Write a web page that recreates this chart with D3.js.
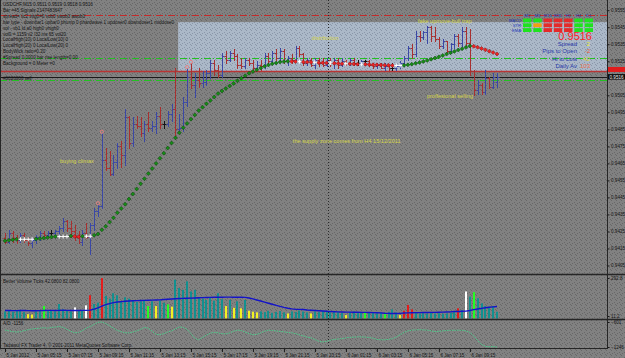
<!DOCTYPE html>
<html>
<head>
<meta charset="utf-8">
<script src="https://cdn.jsdelivr.net/npm/d3@7"></script>
<style>
  body { margin: 0; background: #808080; }
  svg { display: block; }
  text { font-family: "Liberation Sans", Arial, sans-serif; }
</style>
</head>
<body>
<svg id="chart" width="625" height="358"></svg>
<script>
// USDCHF M15 bars, 5 Jan 2012 03:15 -> 6 Jan 2012 11:00
var opens = [
  0.9421,0.9419,0.9424,0.9421,0.9420,0.9423,0.9420,0.9418,0.9420,0.9422,
  0.9424,0.9423,0.9424,0.9424,0.9425,0.9427,0.9431,0.9427,0.9425,0.9422,
  0.9419,0.9424,0.9422,0.9429,0.9437,0.9440,0.9467,0.9462,0.9459,0.9466,
  0.9475,0.9470,0.9492,0.9477,0.9488,0.9487,0.9483,0.9488,0.9486,0.9487,
  0.9493,0.9488,0.9488,0.9494,0.9497,0.9485,0.9486,0.9501,0.9516,0.9511,
  0.9514,0.9512,0.9513,0.9518,0.9524,0.9520,0.9517,0.9528,0.9526,0.9530,
  0.9528,0.9523,0.9522,0.9526,0.9524,0.9521,0.9523,0.9522,0.9528,0.9525,
  0.9530,0.9527,0.9531,0.9525,0.9527,0.9526,0.9533,0.9529,0.9524,0.9526,
  0.9523,0.9526,0.9524,0.9523,0.9526,0.9524,0.9526,0.9523,0.9525,0.9524,
  0.9526,0.9524,0.9524,0.9525,0.9525,0.9523,0.9522,0.9523,0.9521,0.9522,
  0.9521,0.9521,0.9522,0.9524,0.9527,0.9533,0.9529,0.9540,0.9539,0.9542,
  0.9545,0.9540,0.9538,0.9534,0.9537,0.9531,0.9535,0.9540,0.9536,0.9543,
  0.9536,0.9519,0.9508,0.9511,0.9507,0.9515,0.9510,0.9513
];
var highs = [
  0.9424,0.9426,0.9425,0.9423,0.9424,0.9424,0.9422,0.9421,0.9423,0.9425,
  0.9425,0.9425,0.9426,0.9426,0.9428,0.9433,0.9432,0.9431,0.9429,0.9425,
  0.9426,0.9430,0.9430,0.9439,0.9441,0.9483,0.9474,0.9472,0.9470,0.9477,
  0.9478,0.9497,0.9493,0.9492,0.9493,0.9492,0.9490,0.9495,0.9490,0.9495,
  0.9498,0.9490,0.9496,0.9500,0.9521,0.9494,0.9504,0.9521,0.9524,0.9518,
  0.9521,0.9519,0.9520,0.9526,0.9526,0.9523,0.9530,0.9531,0.9531,0.9532,
  0.9529,0.9527,0.9527,0.9527,0.9526,0.9525,0.9526,0.9530,0.9530,0.9531,
  0.9532,0.9533,0.9532,0.9528,0.9529,0.9534,0.9534,0.9530,0.9527,0.9527,
  0.9527,0.9527,0.9527,0.9527,0.9527,0.9527,0.9527,0.9527,0.9526,0.9527,
  0.9527,0.9526,0.9526,0.9526,0.9526,0.9524,0.9524,0.9524,0.9524,0.9523,
  0.9524,0.9523,0.9525,0.9528,0.9534,0.9535,0.9543,0.9543,0.9543,0.9546,
  0.9546,0.9545,0.9539,0.9538,0.9537,0.9536,0.9541,0.9541,0.9545,0.9545,
  0.9544,0.9520,0.9514,0.9512,0.9520,0.9516,0.9518,0.9518
];
var lows = [
  0.9418,0.9418,0.9419,0.9418,0.9419,0.9419,0.9417,0.9416,0.9418,0.9420,
  0.9421,0.9422,0.9423,0.9422,0.9423,0.9425,0.9425,0.9422,0.9420,0.9418,
  0.9417,0.9421,0.9412,0.9426,0.9434,0.9439,0.9461,0.9458,0.9458,0.9462,
  0.9463,0.9464,0.9474,0.9475,0.9486,0.9481,0.9478,0.9484,0.9484,0.9483,
  0.9486,0.9486,0.9487,0.9490,0.9481,0.9483,0.9484,0.9499,0.9509,0.9504,
  0.9510,0.9510,0.9511,0.9515,0.9517,0.9516,0.9516,0.9524,0.9525,0.9526,
  0.9521,0.9521,0.9521,0.9523,0.9520,0.9520,0.9520,0.9521,0.9524,0.9524,
  0.9526,0.9526,0.9524,0.9523,0.9524,0.9525,0.9528,0.9523,0.9523,0.9522,
  0.9521,0.9522,0.9522,0.9522,0.9522,0.9521,0.9521,0.9522,0.9523,0.9523,
  0.9523,0.9523,0.9523,0.9523,0.9522,0.9521,0.9521,0.9521,0.9520,0.9520,
  0.9520,0.9520,0.9521,0.9522,0.9526,0.9527,0.9528,0.9537,0.9538,0.9536,
  0.9537,0.9537,0.9533,0.9533,0.9530,0.9530,0.9533,0.9534,0.9534,0.9534,
  0.9517,0.9505,0.9506,0.9506,0.9506,0.9509,0.9509,0.9510
];
var closes = [
  0.9419,0.9424,0.9421,0.9420,0.9423,0.9420,0.9418,0.9420,0.9422,0.9424,
  0.9423,0.9424,0.9424,0.9425,0.9427,0.9431,0.9427,0.9425,0.9422,0.9419,
  0.9424,0.9422,0.9429,0.9437,0.9440,0.9467,0.9462,0.9459,0.9466,0.9475,
  0.9470,0.9492,0.9477,0.9488,0.9487,0.9483,0.9488,0.9486,0.9487,0.9493,
  0.9488,0.9488,0.9494,0.9497,0.9485,0.9486,0.9501,0.9516,0.9511,0.9514,
  0.9512,0.9513,0.9518,0.9524,0.9520,0.9517,0.9528,0.9526,0.9530,0.9528,
  0.9523,0.9522,0.9526,0.9524,0.9521,0.9523,0.9522,0.9528,0.9525,0.9530,
  0.9527,0.9531,0.9525,0.9527,0.9526,0.9533,0.9529,0.9524,0.9526,0.9523,
  0.9526,0.9524,0.9523,0.9526,0.9524,0.9526,0.9523,0.9525,0.9524,0.9526,
  0.9524,0.9524,0.9525,0.9525,0.9523,0.9522,0.9523,0.9521,0.9522,0.9521,
  0.9521,0.9522,0.9524,0.9527,0.9533,0.9529,0.9540,0.9539,0.9542,0.9545,
  0.9540,0.9538,0.9534,0.9537,0.9531,0.9535,0.9540,0.9536,0.9543,0.9536,
  0.9519,0.9508,0.9511,0.9507,0.9515,0.9510,0.9516,0.9516
];

// trend dots (green up / red down / white flat)
var trendDots = [
  0.94195,0.94198,0.94201,0.94204,0.94204,0.94204,0.94204,0.94204,0.94205,0.94208,
  0.94211,0.94214,0.94217,0.94220,0.94220,0.94220,0.94220,0.94223,0.94221,0.94219,
  0.94222,0.94222,0.94222,0.94228,0.94235,0.94260,0.94280,0.94305,0.94330,0.94360,
  0.94385,0.94410,0.94440,0.94470,0.94500,0.94530,0.94560,0.94590,0.94620,0.94650,
  0.94680,0.94710,0.94740,0.94770,0.94800,0.94830,0.94860,0.94885,0.94910,0.94935,
  0.94960,0.94980,0.95000,0.95020,0.95040,0.95060,0.95075,0.95090,0.95105,0.95120,
  0.95135,0.95150,0.95165,0.95180,0.95190,0.95200,0.95210,0.95220,0.95228,0.95235,
  0.95240,0.95245,0.95248,0.95250,0.95249,0.95248,0.95248,0.95246,0.95245,0.95244,
  0.95244,0.95242,0.95241,0.95240,0.95240,0.95238,0.95237,0.95236,0.95236,0.95235,
  0.95234,0.95233,0.95233,0.95232,0.95231,0.95230,0.95229,0.95228,0.95227,0.95226,
  0.95225,0.95225,0.95225,0.95226,0.95229,0.95233,0.95238,0.95243,0.95249,0.95255,
  0.95262,0.95269,0.95276,0.95284,0.95292,0.95300,0.95308,0.95316,0.95324,0.95332,
  0.95340,0.95338,0.95332,0.95325,0.95317,0.95309,0.95301,0.95293
];

// Better Volume ticks
var volumes = [
  45,50,42,48,52,40,25,22,45,50, 85,48,55,45,100,60,50,45,75,50,
  55,90,165,100,110,292,160,140,180,165, 120,150,140,125,115,120,130,85,120,85,
  125,110,97,80,280,218,205,268,193,205, 150,140,130,145,125,180,135,85,130,72,
  120,68,130,50,43,38,45,40,50,35, 42,48,38,30,45,40,52,44,38,30,
  45,40,48,42,38,45,40,35,18,40, 45,38,42,43,35,40,30,38,35,42,
  60,38,18,50,93,60,35,30,32,28, 35,30,32,28,30,35,40,68,55,193,
  155,188,143,105,85,80,85,43
];
var volumeKinds = [
  "n","n","n","n","n","n","y","y","n","n", "g","n","n","n","n","n","n","n","w","n",
  "n","w","r","n","n","r","n","n","n","n", "n","n","n","n","n","n","n","g","n","y",
  "n","n","g","y","n","n","n","n","n","n", "n","n","n","n","n","n","n","y","n","y",
  "n","y","n","y","y","y","n","n","n","n", "n","n","n","y","n","n","n","n","n","y",
  "n","n","n","n","n","n","n","n","y","n", "n","n","n","g","n","n","n","n","g","n",
  "n","n","y","r","r","r","n","n","n","n", "n","n","n","n","n","n","n","r","n","w",
  "n","g","n","n","n","n","n","n"
];
var volumeAvg = [
  52,52,51,51,52,52,51,50,50,51,52,53,53,52,53,54,53,52,52,52,53,53,
  55,62,72,85,95,103,110,115,118,120,
  122,124,125,126,127,128,129,130,131,133,135,
  137,139,141,142,143,144,145,146,147,148,149,
  150,150,150,151,151,150,150,150,149,
  145,138,130,122,114,106,98,90,82,75,69,64,61,60,59,
  56,54,52,50,48,46,44,43,42,41,40,
  40,39,39,38,38,37,36,35,34,
  32,31,30,30,31,
  33,34,35,36,36,37,37,38,38,39,40,41,42,
  44,45,46,47,
  52,58,63,68,72,76,79,82
];

// Accumulation / Distribution
var adValues = [
  -807,-830,-850,-860,-850,-820,-800,-780,-770,-760,
  -750,-760,-740,-730,-720,-740,-790,-840,-880,-870,
  -820,-760,-720,-660,-610,-601,-640,-700,-760,-820,
  -850,-880,-880,-860,-830,-790,-740,-760,-840,-920,
  -930,-900,-860,-830,-780,-730,-740,-790,-900,-1020,
  -1060,-1000,-940,-890,-870,-880,-900,-910,-880,-840,
  -810,-820,-860,-900,-930,-920,-880,-840,-810,-820,
  -830,-845,-855,-870,-880,-900,-930,-960,-990,-1010,
  -1050,-1100,-1115,-1100,-1070,-1050,-1040,-1030,-1010,-1000,
  -990,-985,-985,-990,-1000,-1020,-1050,-1060,-1060,-1050,
  -1030,-990,-930,-870,-830,-810,-805,-800,-805,-810,
  -830,-850,-840,-830,-820,-815,-815,-812,-815,-830,
  -870,-960,-1080,-1180,-1230,-1240,-1236,-1246
];

// 0.9515 sits under the price boxes, so it is left out
var priceTicks = [0.9555,0.9545,0.9535,0.9525,0.9505,0.9495,0.9485,
                  0.9475,0.9465,0.9455,0.9445,0.9435,0.9425,0.9415,0.9405];
var volTicks = [292.8, 11.2];
var adTicks = [-601, -1246];
var timeLabels = ["5 Jan 2012","5 Jan 05:15","5 Jan 07:15","5 Jan 09:15","5 Jan 11:15",
  "5 Jan 13:15","5 Jan 15:15","5 Jan 17:15","5 Jan 19:15","5 Jan 21:15","5 Jan 23:15",
  "6 Jan 01:15","6 Jan 03:15","6 Jan 05:15","6 Jan 07:15","6 Jan 09:15"];
var dayStartBar = 83;

var zoneHigh = 0.9548, zoneLow = 0.9519, zoneStartBar = 44.7;
var bidPrice = 0.9516;
var redLevels = [0.9552];
var greenLevels = [0.9527, 0.9514];
var pinkMarks = [24, 25, 47, 48];

var notes = [
  {text: "distribution", bar: 79.2, price: 0.95375},
  {text: "fake upmove-bull trap", bar: 106.6, price: 0.95475},
  {text: "proffesional selling", bar: 108.9, price: 0.95034},
  {text: "the supply zone comes from H4 15/12/2011", bar: 74.3, price: 0.9477},
  {text: "buying climax", bar: 14.2, price: 0.94652}
];

var infoLines = [
  "USDCHF,M15  0.9511 0.9519 0.9518 0.9516",
  "Bar =45  Signals 2147483647",
  "spread= tic2 vtig0=0 vob0 vwob0 awob0",
  "bar type - downbar1 upbar0 phump 0 phardwave 1 updoser0 downdoser1 middose0",
  "vol - vb1 ld a0 high0 vhigh0",
  "vol0 = 1159  v2 /32  ins 65  vol20",
  "LocalHigh(10) 0 LocalLow(10) 0",
  "LocalHigh(20) 0 LocalLow(20) 0",
  "BodyWick ratio=0.20",
  "#Spread 0.0000 bar rise length=0.00",
  "Background = 0 Meter =0"
];

var tfNames = ["M1","M5","M15","M30","H1","H4","D1"];
var sigRows = ["MACD","STR","EMA"];
var signals = [[1,1,1],[1,0,1],[-1,-1,-1],[-1,-1,-1],[-1,-1,-1],[1,1,1],[1,1,1]];
var statLabels = ["Spread","Pips to Open","Hi to Low","Daily Av"];
var statValues = ["2","-2","42","103"];

// ---------- layout ----------
var plotRight = 607;
var svg = d3.select("#chart");

var defs = svg.append("defs");
function speckle(id, base, dot) {
  var p = defs.append("pattern").attr("id", id).attr("width", 5).attr("height", 5)
      .attr("patternUnits", "userSpaceOnUse");
  p.append("rect").attr("width", 5).attr("height", 5).attr("fill", base);
  [[1,0],[4,2],[2,3],[0,4]].forEach(function(q) {
    p.append("rect").attr("x", q[0]).attr("y", q[1]).attr("width", 1).attr("height", 1).attr("fill", dot);
  });
}
speckle("bg", "#818181", "#686868");
speckle("zone", "#abb8c8", "#8a97a9");
defs.append("clipPath").attr("id", "clipPrice").append("rect")
    .attr("x", 0).attr("y", 0).attr("width", plotRight).attr("height", 274);

svg.append("rect").attr("width", 625).attr("height", 358).attr("fill", "url(#bg)");

var x = d3.scaleLinear().domain([0, opens.length - 1]).range([5, 497]);
var y = d3.scaleLinear().domain([0.9400, 0.9561]).range([274, 0]);
var yVol = d3.scaleLinear().domain([11.2, 292.8]).range([316, 278]);
var yAd = d3.scaleLinear().domain([-1246, -601]).range([347, 322]);

var price = svg.append("g").attr("clip-path", "url(#clipPrice)");

// supply zone
price.append("rect")
    .attr("x", x(zoneStartBar)).attr("y", y(zoneHigh))
    .attr("width", plotRight - x(zoneStartBar)).attr("height", y(zoneLow) - y(zoneHigh))
    .attr("fill", "url(#zone)");

// level lines
price.selectAll(".lvlR").data(redLevels).enter().append("line")
    .attr("x1", 0).attr("x2", plotRight)
    .attr("y1", function(d) { return Math.round(y(d)) + 0.5; })
    .attr("y2", function(d) { return Math.round(y(d)) + 0.5; })
    .attr("stroke", "#c42a2a").attr("stroke-dasharray", "7,2,1,2");
price.selectAll(".lvlG").data(greenLevels).enter().append("line")
    .attr("x1", 0).attr("x2", plotRight)
    .attr("y1", function(d) { return Math.round(y(d)) + 0.5; })
    .attr("y2", function(d) { return Math.round(y(d)) + 0.5; })
    .attr("stroke", "#22c022").attr("stroke-dasharray", "7,2,1,2");
price.append("line").attr("x1", 0).attr("x2", plotRight)
    .attr("y1", y(zoneLow)).attr("y2", y(zoneLow))
    .attr("stroke", "#b83434").attr("stroke-width", 1.6);
price.append("line").attr("x1", 0).attr("x2", plotRight)
    .attr("y1", Math.round(y(bidPrice)) + 0.5).attr("y2", Math.round(y(bidPrice)) + 0.5)
    .attr("stroke", "#1a1a1a");

// day separator
svg.append("line")
    .attr("x1", Math.round((x(dayStartBar) + x(dayStartBar + 1)) / 2) + 0.5)
    .attr("x2", Math.round((x(dayStartBar) + x(dayStartBar + 1)) / 2) + 0.5)
    .attr("y1", 0).attr("y2", 348)
    .attr("stroke", "#2a2a2a").attr("stroke-dasharray", "1,2");

// OHLC bars
var bars = d3.range(opens.length).map(function(i) {
  return {i: i, o: opens[i], h: highs[i], l: lows[i], c: closes[i]};
});
function px(v) { return Math.round(v) + 0.5; }
price.selectAll(".bar").data(bars).enter().append("path")
    .attr("fill", "none")
    .attr("stroke", function(d) { return d.c > d.o ? "#3b48a6" : d.c < d.o ? "#a83030" : "#151515"; })
    .attr("d", function(d) {
      var cx = px(x(d.i));
      return "M" + cx + "," + Math.round(y(d.h)) + "V" + (Math.round(y(d.l)) + 1) +
             "M" + (cx - 2) + "," + px(y(d.o)) + "H" + cx +
             "M" + cx + "," + px(y(d.c)) + "H" + (cx + 2);
    });

// pink markers
price.selectAll(".pink").data(pinkMarks).enter().append("circle")
    .attr("cx", function(d) { return x(d); })
    .attr("cy", function(d) { return y(highs[d]) - 1; })
    .attr("r", 1.6).attr("fill", "none").attr("stroke", "#e88080").attr("stroke-width", 0.9);

// trend dots
var dots = trendDots.map(function(v, i) {
  var diff = i > 0 ? v - trendDots[i - 1] : 1;
  return {i: i, v: v, kind: diff > 0.0000055 ? "up" : diff < -0.0000055 ? "down" : "flat"};
});
price.selectAll(".dot").data(dots.filter(function(d) { return d.kind !== "flat"; })).enter()
  .append("path")
    .attr("transform", function(d) { return "translate(" + x(d.i) + "," + y(d.v) + ")"; })
    .attr("d", "M0,-2L2,0L0,2L-2,0Z")
    .attr("fill", function(d) { return d.kind === "up" ? "#168c16" : "#ec2424"; })
    .attr("stroke", function(d) { return d.kind === "up" ? "#0b3e0b" : "#7a1010"; })
    .attr("stroke-width", 0.5);
price.selectAll(".cross").data(dots.filter(function(d) { return d.kind === "flat"; })).enter()
  .append("path")
    .attr("transform", function(d) { return "translate(" + x(d.i) + "," + y(d.v) + ")"; })
    .attr("d", "M-2,0H2M0,-2V2")
    .attr("stroke", "#ffffff").attr("stroke-width", 1);

// annotations
svg.selectAll(".note").data(notes).enter().append("text")
    .attr("x", function(d) { return x(d.bar); })
    .attr("y", function(d) { return y(d.price); })
    .attr("font-size", 5.6).attr("fill", "#d6d64a")
    .text(function(d) { return d.text; });

// info text, top-left
svg.selectAll(".info").data(infoLines).enter().append("text")
    .attr("x", 3).attr("y", function(d, i) { return 6 + i * 5.9; })
    .attr("font-size", 4.6).attr("fill", "#161616")
    .text(function(d) { return d; });
svg.append("text").attr("x", 3).attr("y", 80).attr("font-size", 4.6).attr("fill", "#161616")
    .text("#0026000 sell");

// signal grid
var gx = d3.scaleBand().domain(tfNames).range([523, 593]).paddingInner(0.18);
var gy = d3.scaleBand().domain(sigRows).range([18.5, 32]).paddingInner(0.2);
svg.selectAll(".tf").data(tfNames).enter().append("text")
    .attr("x", function(d) { return gx(d) + gx.bandwidth() / 2; }).attr("y", 16.5)
    .attr("text-anchor", "middle").attr("font-size", 4.2).attr("fill", "#2038b8")
    .text(function(d) { return d; });
svg.selectAll(".row").data(sigRows).enter().append("text")
    .attr("x", 521).attr("y", function(d) { return gy(d) + gy.bandwidth() - 0.3; })
    .attr("text-anchor", "end").attr("font-size", 4.2).attr("fill", "#2038b8")
    .text(function(d) { return d; });
var cells = [];
signals.forEach(function(col, ci) {
  col.forEach(function(s, ri) { cells.push({tf: tfNames[ci], row: sigRows[ri], s: s}); });
});
svg.selectAll(".cell").data(cells).enter().append("rect")
    .attr("x", function(d) { return gx(d.tf); }).attr("y", function(d) { return gy(d.row); })
    .attr("width", gx.bandwidth()).attr("height", gy.bandwidth())
    .attr("fill", function(d) { return d.s > 0 ? "#1ee21e" : d.s < 0 ? "#e42a2a" : "#f0a010"; });

svg.append("text").attr("x", 592).attr("y", 40).attr("text-anchor", "end")
    .attr("font-size", 11).attr("fill", "#ff1e1e").text(bidPrice.toFixed(4));
var statColors = ["#ecec30", "#e85a30", "#d8d040", "#e87050"];
statLabels.forEach(function(lbl, i) {
  svg.append("text").attr("x", 577).attr("y", 45.5 + i * 7.6).attr("text-anchor", "end")
      .attr("font-size", 6).attr("fill", "#2a3aa8").text(lbl);
  svg.append("text").attr("x", 590).attr("y", 45.5 + i * 7.6).attr("text-anchor", "end")
      .attr("font-size", 6).attr("fill", statColors[i]).text(statValues[i]);
});

// ---------- volume panel ----------
var volColor = {n: "#12908f", y: "#f2f222", w: "#ffffff", r: "#e41c1c", g: "#22ff22"};
svg.selectAll(".vol").data(volumes).enter().append("rect")
    .attr("x", function(d, i) { return Math.round(x(i)) - 1; })
    .attr("y", function(d) { return yVol(d); })
    .attr("width", 2)
    .attr("height", function(d) { return Math.max(0, 318.5 - yVol(d)); })
    .attr("fill", function(d, i) { return volColor[volumeKinds[i]]; });
svg.append("path").datum(volumeAvg)
    .attr("fill", "none").attr("stroke", "#1414c8").attr("stroke-width", 1.4)
    .attr("d", d3.line().x(function(d, i) { return x(i); }).y(function(d) { return yVol(d); }));
svg.append("text").attr("x", 3).attr("y", 282.5).attr("font-size", 4.6).attr("fill", "#161616")
    .text("Better Volume Ticks 42.0800 82.0800");

// ---------- A/D panel ----------
svg.append("path").datum(adValues)
    .attr("fill", "none").attr("stroke", "#4cd08c").attr("stroke-width", 1)
    .attr("stroke-dasharray", "1.5,1")
    .attr("d", d3.line().x(function(d, i) { return x(i); }).y(function(d) { return yAd(d); }));
svg.append("text").attr("x", 3).attr("y", 325).attr("font-size", 4.6).attr("fill", "#161616")
    .text("A/D -1156");
svg.append("text").attr("x", 3).attr("y", 346.5).attr("font-size", 4.6).attr("fill", "#161616")
    .text("Tadawul FX Trader 4, \u00a9 2001-2011 MetaQuotes Software Corp.");

// ---------- frames ----------
var frame = "#262626";
[274.5, 319.5].forEach(function(yy) {
  svg.append("line").attr("x1", 0).attr("x2", 625).attr("y1", yy).attr("y2", yy)
      .attr("stroke", frame).attr("stroke-width", 1.6);
});
svg.append("line").attr("x1", 0).attr("x2", plotRight + 0.5).attr("y1", 348.5).attr("y2", 348.5)
    .attr("stroke", frame).attr("stroke-width", 1.2);
svg.append("line").attr("x1", plotRight + 0.5).attr("x2", plotRight + 0.5).attr("y1", 0).attr("y2", 349)
    .attr("stroke", frame);
svg.append("line").attr("x1", 0.5).attr("x2", 0.5).attr("y1", 0).attr("y2", 349)
    .attr("stroke", frame);

// ---------- axes ----------
function styleAxis(g) {
  g.select(".domain").remove();
  g.selectAll("line").attr("stroke", "#1a1a1a");
  g.selectAll("text").attr("font-size", 4.6).attr("fill", "#161616")
      .attr("font-family", "Liberation Sans, Arial, sans-serif");
}
svg.append("g").attr("transform", "translate(" + (plotRight + 0.5) + ",0)")
    .call(d3.axisRight(y).tickValues(priceTicks).tickFormat(d3.format(".4f")).tickSize(2).tickPadding(1.5))
    .call(styleAxis);
svg.append("g").attr("transform", "translate(" + (plotRight + 0.5) + ",0)")
    .call(d3.axisRight(yVol).tickValues(volTicks).tickFormat(d3.format(".1f")).tickSize(2).tickPadding(1.5))
    .call(styleAxis);
svg.append("g").attr("transform", "translate(" + (plotRight + 0.5) + ",0)")
    .call(d3.axisRight(yAd).tickValues(adTicks).tickFormat(d3.format("d")).tickSize(2).tickPadding(1.5))
    .call(styleAxis);

// current price boxes
svg.append("rect").attr("x", plotRight + 1).attr("y", y(zoneLow) - 4.5).attr("width", 18).attr("height", 5)
    .attr("fill", "#e01c1c");
svg.append("rect").attr("x", plotRight + 1).attr("y", y(bidPrice) - 2.5).attr("width", 18).attr("height", 5.5)
    .attr("fill", "#0c0c0c");
svg.append("text").attr("x", plotRight + 2.5).attr("y", y(bidPrice) + 2).attr("font-size", 4.6)
    .attr("fill", "#f0f0f0").text(bidPrice.toFixed(4));

// time axis
svg.append("g").attr("transform", "translate(0,349)")
    .call(d3.axisBottom(x).tickValues(timeLabels.map(function(d, i) { return i * 8; }))
      .tickFormat(function(d) { return timeLabels[d / 8]; }).tickSize(3).tickPadding(1.5))
    .call(styleAxis)
    .selectAll("text").attr("text-anchor", "start").attr("dx", 1);
</script>
</body>
</html>
